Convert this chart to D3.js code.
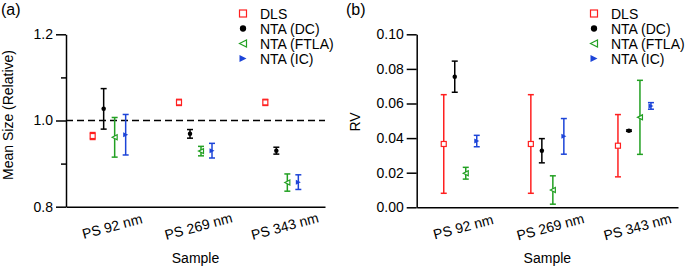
<!DOCTYPE html>
<html lang="en">
<head>
    <meta charset="UTF-8">
    <title>Mean size and RV by sample</title>
    <script src="https://d3js.org/d3.v7.min.js"></script>
    <style>
        body { margin: 0; background: #fff; }
        svg { font-family: "Liberation Sans", Arial, sans-serif; }
    </style>
</head>
<body>
    <svg id="chart" width="685" height="266"></svg>
    <script>
        const categories = ["PS 92 nm", "PS 269 nm", "PS 343 nm"];
        const seriesNames = ["DLS", "NTA (DC)", "NTA (FTLA)", "NTA (IC)"];

        // panel (a): mean size relative to nominal
        const sizeDLS = [0.964, 1.042, 1.042];
        const sizeDLSErr = [0.008, 0.007, 0.007];
        const sizeDC = [1.027, 0.969, 0.930];
        const sizeDCErr = [0.047, 0.010, 0.008];
        const sizeFTLA = [0.961, 0.929, 0.856];
        const sizeFTLAErr = [0.046, 0.011, 0.020];
        const sizeIC = [0.967, 0.930, 0.857];
        const sizeICErr = [0.047, 0.017, 0.017];
        const sizeTicks = [0.8, 1.0, 1.2];
        const sizeMinorTicks = [0.9, 1.1];

        // panel (b): RV
        const rvDLS = [0.0366, 0.0366, 0.0356];
        const rvDLSErr = [0.0285, 0.0285, 0.018];
        const rvDC = [0.0755, 0.0327, 0.0443];
        const rvDCErr = [0.009, 0.007, 0.0004];
        const rvFTLA = [0.0197, 0.0100, 0.052];
        const rvFTLAErr = [0.0034, 0.0082, 0.0214];
        const rvIC = [0.0383, 0.041, 0.0586];
        const rvICErr = [0.0033, 0.0103, 0.0019];
        const rvTicks = [0, 0.02, 0.04, 0.06, 0.08, 0.10];

        const colors = ["#ff2020", "#000000", "#22a022", "#1c44d8"];

        const svg = d3.select("#chart");

        function marker(sel, i, s) {
            // s = half size
            if (i === 0) {
                sel.append("rect").attr("x", -s).attr("y", -s)
                    .attr("width", 2 * s).attr("height", 2 * s)
                    .attr("fill", "#fff").attr("stroke", colors[0]).attr("stroke-width", 1.2);
            } else if (i === 1) {
                sel.append("circle").attr("r", s * 0.9).attr("fill", colors[1]);
            } else if (i === 2) {
                sel.append("path").attr("d", `M${-s},0L${s},${-s}L${s},${s}Z`)
                    .attr("fill", "#fff").attr("stroke", colors[2]).attr("stroke-width", 1.2);
            } else {
                sel.append("path").attr("d", `M${s},0L${-s},${-s}L${-s},${s}Z`)
                    .attr("fill", colors[3]);
            }
        }

        function panel(opts) {
            const g = svg.append("g");
            const x = d3.scaleBand().domain(categories).range(opts.xRange);
            const off = d3.scalePoint().domain(seriesNames).range([-16.5, 16.5]);
            const y = d3.scaleLinear().domain(opts.yDomain).range(opts.yRange);

            // left axis
            const ya = g.append("g")
                .attr("transform", `translate(${opts.xRange[0]},0)`)
                .call(d3.axisLeft(y).tickValues(opts.ticks).tickFormat(opts.fmt)
                    .tickSize(10).tickSizeOuter(0).tickPadding(3));
            ya.select(".domain").attr("stroke-width", 1.5);
            ya.selectAll(".tick line").attr("stroke-width", 1.5);
            ya.selectAll("text").attr("font-size", 14).attr("fill", "#000");

            if (opts.minor) {
                const ym = g.append("g")
                    .attr("transform", `translate(${opts.xRange[0]},0)`)
                    .call(d3.axisLeft(y).tickValues(opts.minor).tickFormat("").tickSize(5));
                ym.select(".domain").remove();
                ym.selectAll(".tick line").attr("stroke-width", 1.5);
            }

            // bottom axis: line and rotated labels
            const xa = g.append("g")
                .attr("transform", `translate(0,${opts.yRange[0]})`)
                .call(d3.axisBottom(x).tickSize(0).tickSizeOuter(0));
            xa.select(".domain").attr("stroke-width", 1.5);
            xa.selectAll(".tick text")
                .attr("font-size", 14).attr("fill", "#000")
                .attr("text-anchor", "middle")
                .attr("dominant-baseline", "central")
                .attr("y", 0).attr("dy", null)
                .attr("transform", "translate(3,19.5) rotate(-15)");

            if (opts.refLine !== undefined) {
                g.append("line")
                    .attr("x1", opts.xRange[0]).attr("x2", opts.xRange[1])
                    .attr("y1", y(opts.refLine)).attr("y2", y(opts.refLine))
                    .attr("stroke", "#000").attr("stroke-width", 1.5)
                    .attr("stroke-dasharray", "7,4");
            }

            // error bars and markers
            opts.series.forEach((s, i) => {
                const pts = categories.map((c, k) => ({
                    cx: x(c) + x.bandwidth() / 2 + off(seriesNames[i]),
                    v: s.values[k], e: s.err[k]
                }));
                const sg = g.append("g");
                const bars = sg.selectAll("g.err").data(pts).enter().append("g")
                    .attr("stroke", colors[i]).attr("stroke-width", 1.5);
                bars.append("line")
                    .attr("x1", d => d.cx).attr("x2", d => d.cx)
                    .attr("y1", d => y(d.v - d.e)).attr("y2", d => y(d.v + d.e));
                [-1, 1].forEach(sign => {
                    bars.append("line")
                        .attr("x1", d => d.cx - 3).attr("x2", d => d.cx + 3)
                        .attr("y1", d => y(d.v + sign * d.e)).attr("y2", d => y(d.v + sign * d.e));
                });
                sg.selectAll("g.mk").data(pts).enter().append("g")
                    .attr("transform", d => `translate(${d.cx},${y(d.v)})`)
                    .each(function () { marker(d3.select(this), i, 2.5); });
            });

            // axis titles
            g.append("text")
                .attr("transform", `translate(${opts.yLabelX},${opts.yLabelY}) rotate(-90)`)
                .attr("text-anchor", "middle")
                .attr("font-size", 14)
                .text(opts.yLabel);
            g.append("text")
                .attr("x", (opts.xRange[0] + opts.xRange[1]) / 2)
                .attr("y", 263)
                .attr("text-anchor", "middle")
                .attr("font-size", 14)
                .text("Sample");
            g.append("text")
                .attr("x", opts.tagX).attr("y", 15)
                .attr("font-size", 16)
                .text(opts.tag);

            // legend
            const lg = g.append("g").attr("transform", `translate(${opts.legendX},13.5)`);
            seriesNames.forEach((name, i) => {
                const row = lg.append("g").attr("transform", `translate(0,${i * 15})`);
                marker(row, i, 3.5);
                row.append("text")
                    .attr("x", 17).attr("y", 0)
                    .attr("dominant-baseline", "central")
                    .attr("font-size", 14)
                    .text(name);
            });
        }

        panel({
            tag: "(a)", tagX: 1,
            xRange: [66, 325], yRange: [206.7, 34.3], yDomain: [0.8, 1.2],
            ticks: sizeTicks, minor: sizeMinorTicks, fmt: d3.format(".1f"),
            refLine: 1.0,
            yLabel: "Mean Size (Relative)", yLabelX: 13, yLabelY: 115,
            legendX: 243,
            series: [
                {values: sizeDLS, err: sizeDLSErr},
                {values: sizeDC, err: sizeDCErr},
                {values: sizeFTLA, err: sizeFTLAErr},
                {values: sizeIC, err: sizeICErr}
            ]
        });

        panel({
            tag: "(b)", tagX: 346,
            xRange: [416.7, 678], yRange: [207.3, 34.3], yDomain: [0, 0.1],
            ticks: rvTicks, fmt: d3.format(".2f"),
            yLabel: "RV", yLabelX: 360, yLabelY: 122,
            legendX: 594,
            series: [
                {values: rvDLS, err: rvDLSErr},
                {values: rvDC, err: rvDCErr},
                {values: rvFTLA, err: rvFTLAErr},
                {values: rvIC, err: rvICErr}
            ]
        });
    </script>
</body>
</html>
